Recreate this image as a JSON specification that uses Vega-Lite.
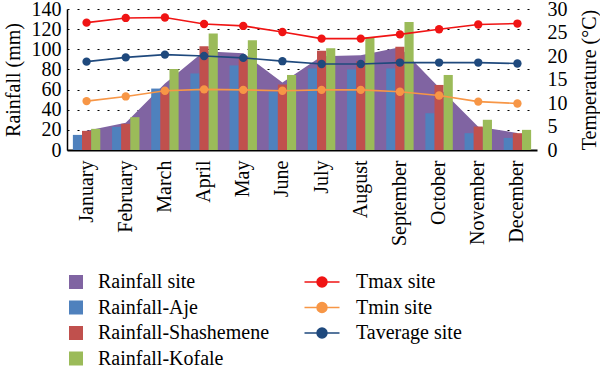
{
  "$schema": "https://vega.github.io/schema/vega-lite/v6.json",
  "width": 470,
  "height": 141,
  "autosize": {"type": "none"},
  "padding": {"left": 67, "top": 9, "right": 63, "bottom": 216},
  "background": "white",
  "config": {
    "font": "Liberation Serif",
    "view": {"stroke": null},
    "axis": {"labelFont": "Liberation Serif", "titleFont": "Liberation Serif", "labelColor": "black", "titleColor": "black", "titleFontWeight": "normal", "labelFontSize": 20, "titleFontSize": 20},
    "legend": {"labelFont": "Liberation Serif", "labelColor": "black", "labelFontSize": 20, "labelLimit": 0}
  },
  "datasets": {
    "rain": [
      {"month": "January", "series": "Rainfall site", "value": 19},
      {"month": "February", "series": "Rainfall site", "value": 27},
      {"month": "March", "series": "Rainfall site", "value": 66},
      {"month": "April", "series": "Rainfall site", "value": 98},
      {"month": "May", "series": "Rainfall site", "value": 96},
      {"month": "June", "series": "Rainfall site", "value": 67},
      {"month": "July", "series": "Rainfall site", "value": 93},
      {"month": "August", "series": "Rainfall site", "value": 94},
      {"month": "September", "series": "Rainfall site", "value": 102},
      {"month": "October", "series": "Rainfall site", "value": 62},
      {"month": "November", "series": "Rainfall site", "value": 23},
      {"month": "December", "series": "Rainfall site", "value": 17},
      {"month": "January", "series": "Rainfall-Aje", "value": 15},
      {"month": "February", "series": "Rainfall-Aje", "value": 23},
      {"month": "March", "series": "Rainfall-Aje", "value": 61},
      {"month": "April", "series": "Rainfall-Aje", "value": 76},
      {"month": "May", "series": "Rainfall-Aje", "value": 84},
      {"month": "June", "series": "Rainfall-Aje", "value": 58},
      {"month": "July", "series": "Rainfall-Aje", "value": 81},
      {"month": "August", "series": "Rainfall-Aje", "value": 80},
      {"month": "September", "series": "Rainfall-Aje", "value": 81},
      {"month": "October", "series": "Rainfall-Aje", "value": 36.5},
      {"month": "November", "series": "Rainfall-Aje", "value": 16.7},
      {"month": "December", "series": "Rainfall-Aje", "value": 12},
      {"month": "January", "series": "Rainfall-Shashemene", "value": 19},
      {"month": "February", "series": "Rainfall-Shashemene", "value": 26},
      {"month": "March", "series": "Rainfall-Shashemene", "value": 60},
      {"month": "April", "series": "Rainfall-Shashemene", "value": 103},
      {"month": "May", "series": "Rainfall-Shashemene", "value": 93},
      {"month": "June", "series": "Rainfall-Shashemene", "value": 65},
      {"month": "July", "series": "Rainfall-Shashemene", "value": 98.5},
      {"month": "August", "series": "Rainfall-Shashemene", "value": 88},
      {"month": "September", "series": "Rainfall-Shashemene", "value": 102.5},
      {"month": "October", "series": "Rainfall-Shashemene", "value": 64.6},
      {"month": "November", "series": "Rainfall-Shashemene", "value": 23.3},
      {"month": "December", "series": "Rainfall-Shashemene", "value": 16.7},
      {"month": "January", "series": "Rainfall-Kofale", "value": 21},
      {"month": "February", "series": "Rainfall-Kofale", "value": 32.6},
      {"month": "March", "series": "Rainfall-Kofale", "value": 80.4},
      {"month": "April", "series": "Rainfall-Kofale", "value": 115.7},
      {"month": "May", "series": "Rainfall-Kofale", "value": 109},
      {"month": "June", "series": "Rainfall-Kofale", "value": 74.5},
      {"month": "July", "series": "Rainfall-Kofale", "value": 101},
      {"month": "August", "series": "Rainfall-Kofale", "value": 112},
      {"month": "September", "series": "Rainfall-Kofale", "value": 127},
      {"month": "October", "series": "Rainfall-Kofale", "value": 74.5},
      {"month": "November", "series": "Rainfall-Kofale", "value": 30},
      {"month": "December", "series": "Rainfall-Kofale", "value": 20}
    ],
    "temp": [
      {"month": "January", "series": "Tmax site", "temp": 27.1},
      {"month": "February", "series": "Tmax site", "temp": 28.1},
      {"month": "March", "series": "Tmax site", "temp": 28.2},
      {"month": "April", "series": "Tmax site", "temp": 26.8},
      {"month": "May", "series": "Tmax site", "temp": 26.4},
      {"month": "June", "series": "Tmax site", "temp": 25.1},
      {"month": "July", "series": "Tmax site", "temp": 23.7},
      {"month": "August", "series": "Tmax site", "temp": 23.7},
      {"month": "September", "series": "Tmax site", "temp": 24.6},
      {"month": "October", "series": "Tmax site", "temp": 25.7},
      {"month": "November", "series": "Tmax site", "temp": 26.7},
      {"month": "December", "series": "Tmax site", "temp": 26.9},
      {"month": "January", "series": "Tmin site", "temp": 10.4},
      {"month": "February", "series": "Tmin site", "temp": 11.4},
      {"month": "March", "series": "Tmin site", "temp": 12.6},
      {"month": "April", "series": "Tmin site", "temp": 12.9},
      {"month": "May", "series": "Tmin site", "temp": 12.8},
      {"month": "June", "series": "Tmin site", "temp": 12.6},
      {"month": "July", "series": "Tmin site", "temp": 12.8},
      {"month": "August", "series": "Tmin site", "temp": 12.8},
      {"month": "September", "series": "Tmin site", "temp": 12.4},
      {"month": "October", "series": "Tmin site", "temp": 11.6},
      {"month": "November", "series": "Tmin site", "temp": 10.3},
      {"month": "December", "series": "Tmin site", "temp": 9.9},
      {"month": "January", "series": "Taverage site", "temp": 18.8},
      {"month": "February", "series": "Taverage site", "temp": 19.7},
      {"month": "March", "series": "Taverage site", "temp": 20.3},
      {"month": "April", "series": "Taverage site", "temp": 20.0},
      {"month": "May", "series": "Taverage site", "temp": 19.6},
      {"month": "June", "series": "Taverage site", "temp": 18.9},
      {"month": "July", "series": "Taverage site", "temp": 18.3},
      {"month": "August", "series": "Taverage site", "temp": 18.3},
      {"month": "September", "series": "Taverage site", "temp": 18.6},
      {"month": "October", "series": "Taverage site", "temp": 18.6},
      {"month": "November", "series": "Taverage site", "temp": 18.6},
      {"month": "December", "series": "Taverage site", "temp": 18.4}
    ]
  },
  "layer": [
    {
      "data": {"name": "rain"},
      "encoding": {
        "x": {
          "field": "month", "type": "nominal",
          "sort": ["January","February","March","April","May","June","July","August","September","October","November","December"],
          "scale": {"paddingInner": 0.3, "paddingOuter": 0.15},
          "axis": {"title": null, "labelAngle": -90, "labelPadding": 10, "ticks": false, "domainColor": "black", "domainWidth": 2, "grid": false}
        },
        "y": {
          "field": "value", "type": "quantitative",
          "scale": {"domain": [0, 140], "nice": false, "zero": true},
          "axis": {"title": "Rainfall (mm)", "values": [0,20,40,60,80,100,120,140], "ticks": false, "labelPadding": 6, "titlePadding": 8, "domainColor": "black", "domainWidth": 1.5, "grid": true, "gridColor": "black", "gridDash": [2, 8], "gridWidth": 1.2}
        },
        "fill": {
          "field": "series", "type": "nominal",
          "scale": {"domain": ["Rainfall site","Rainfall-Aje","Rainfall-Shashemene","Rainfall-Kofale"], "range": ["#8064A2","#4F81BD","#C0504D","#9BBB59"]},
          "legend": {"title": null, "orient": "none", "legendX": -1, "legendY": 263, "direction": "vertical", "symbolType": "square", "symbolSize": 196, "symbolStrokeWidth": 0, "labelOffset": 12, "rowPadding": 5.5, "padding": 0, "labelLimit": 0}
        }
      },
      "layer": [
        {
          "transform": [{"filter": "datum.series === 'Rainfall site'"}],
          "mark": {"type": "area", "opacity": 1}
        },
        {
          "transform": [{"filter": "datum.series !== 'Rainfall site'"}],
          "mark": {"type": "bar"},
          "encoding": {
            "xOffset": {"field": "series", "type": "nominal", "sort": ["Rainfall-Aje","Rainfall-Shashemene","Rainfall-Kofale"], "scale": {"paddingInner": 0, "paddingOuter": 0}}
          }
        }
      ]
    },
    {
      "data": {"name": "temp"},
      "encoding": {
        "x": {
          "field": "month", "type": "nominal",
          "sort": ["January","February","March","April","May","June","July","August","September","October","November","December"]
        },
        "y": {
          "field": "temp", "type": "quantitative",
          "scale": {"domain": [0, 30], "nice": false, "zero": true},
          "axis": {"orient": "right", "title": "Temperature (°C)", "titleAngle": -90, "titleBaseline": "top", "values": [0,5,10,15,20,25,30], "ticks": false, "domain": false, "grid": false, "labelPadding": 10, "titlePadding": 12}
        },
        "color": {
          "field": "series", "type": "nominal",
          "scale": {"domain": ["Tmax site","Tmin site","Taverage site"], "range": ["#F01414","#F79646","#1F497D"]},
          "legend": {"title": null, "orient": "none", "legendX": 245, "legendY": 263, "direction": "vertical", "symbolType": "M-2.5,0H2.5M-0.71,0A0.71,0.71,0,1,1,0.71,0A0.71,0.71,0,1,1,-0.71,0Z", "symbolSize": 196, "symbolStrokeWidth": 1.5, "labelOffset": 24, "rowPadding": 5.5, "padding": 0, "labelLimit": 0,
            "encode": {"symbols": {"update": {"fill": {"scale": "color", "field": "value"}, "stroke": {"scale": "color", "field": "value"}}}}}
        }
      },
      "layer": [
        {"mark": {"type": "line", "strokeWidth": 1.6}},
        {"mark": {"type": "point", "filled": true, "size": 70, "opacity": 1, "strokeWidth": 0}}
      ]
    }
  ],
  "resolve": {"scale": {"y": "independent"}}
}
